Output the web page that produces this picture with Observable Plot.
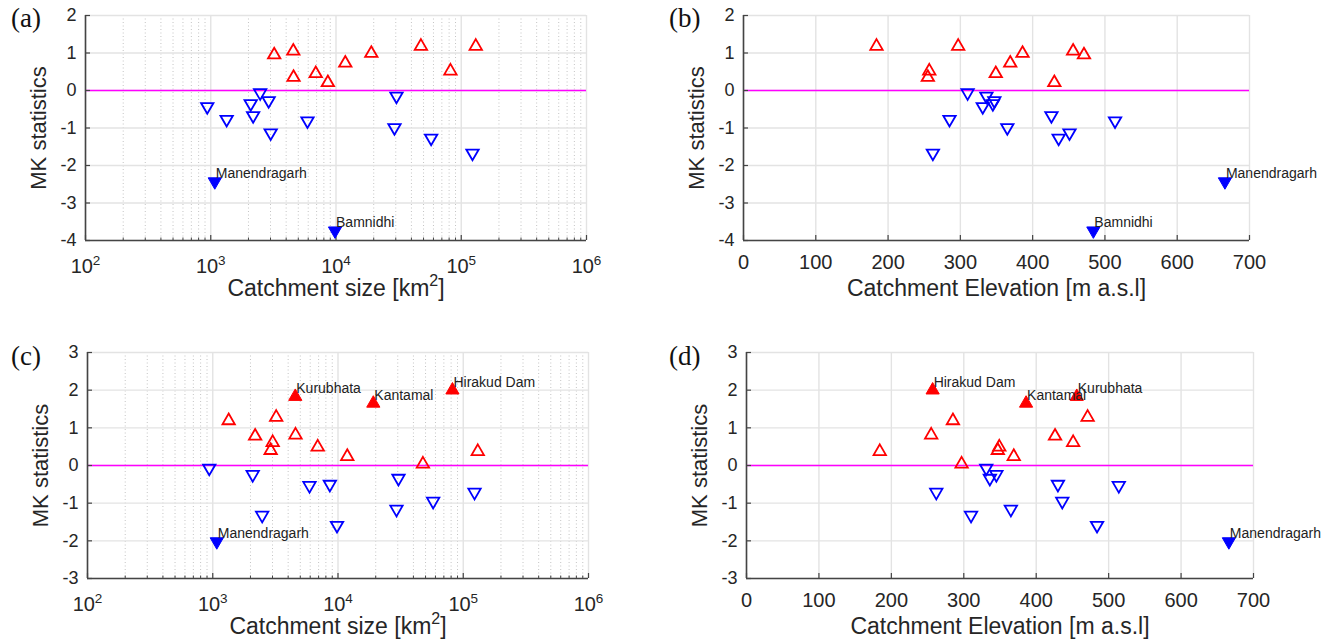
<!DOCTYPE html>
<html><head><meta charset="utf-8">
<script src="https://cdn.jsdelivr.net/npm/d3@7"></script>
<script src="https://cdn.jsdelivr.net/npm/@observablehq/plot@0.6"></script>
<style>
body{margin:0;background:#fff;}
#wrap{position:relative;width:1325px;height:642px;background:#fff;overflow:hidden;}
.panel{position:absolute;}
.plabel{position:absolute;font-family:"Liberation Serif","Times New Roman",serif;font-size:27px;line-height:30px;color:#111;}
</style></head><body><div id="wrap"></div>
<script>
// ---- data (24 gauging stations) ----
const stations = ["S01","S02","S03","S04","S05","S06","S07","S08","Kurubhata","S10","S11","S12","S13","Bamnidhi","S15","Kantamal","S17","S18","S19","S20","Hirakud Dam","S22","S23","Manendragarh"];
const area = [938,1340,2085,2180,2480,2900,3010,3210,4560,4580,5920,6890,8610,9820,11860,19140,29300,30400,47640,57500,82000,123000,130600,1077];
const elevation = [331,285,345,426,310,347,451,471,456,255,514,349,430,484,369,386,365,336,297,436,257,262,184,666];
const mkTop = [-0.43,-0.77,-0.35,-0.67,-0.06,-0.27,-1.13,0.95,1.05,0.35,-0.81,0.45,0.21,-3.74,0.73,0.99,-0.99,-0.15,1.18,-1.27,0.52,-1.67,1.18,-2.43];
const mkBottom = [-0.07,1.19,-0.24,0.78,-1.32,0.40,0.61,1.28,1.83,0.81,-0.53,0.49,-0.50,-1.59,0.24,1.65,-1.16,-0.34,0.04,-0.95,2.00,-0.71,0.37,-2.02];
const sigTop = ["Manendragarh","Bamnidhi"];
const sigBottom = ["Kurubhata","Kantamal","Hirakud Dam","Manendragarh"];
const logTicks = [1e2,1e3,1e4,1e5,1e6];
const elevTicks = [0,100,200,300,400,500,600,700];
const yTicksTop = [-4,-3,-2,-1,0,1,2];
const yTicksBottom = [-3,-2,-1,0,1,2,3];
const panelNames = ["(a)","(b)","(c)","(d)"];
const xLabelArea = "Catchment size [km^2]";
const xLabelElev = "Catchment Elevation [m a.s.l]";
const yLabel = "MK statistics";

const logMinor = [];
for (let e = 2; e < 6; e++) for (let m = 2; m <= 9; m++) logMinor.push(m * 10 ** e);

const AX = "#444", GRID = "#e3e3e3", TXT = "#262626";

function panel(o) {
  const data = stations.map((name, i) => ({name, x: o.x[i], y: o.y[i], sig: o.sig.includes(name)}));
  const iw = o.width - o.ml - o.mr, ih = o.height - o.mt - o.mb;
  const isLog = o.type === "log";
  const marks = [];
  if (isLog) marks.push(Plot.ruleX(logMinor, {stroke: "#c4c4c4", strokeWidth: 1, strokeDasharray: "1,2.5"}));
  marks.push(
    Plot.ruleX(o.xTicks, {stroke: GRID, strokeWidth: 1.4}),
    Plot.ruleY(o.yTicks, {stroke: GRID, strokeWidth: 1.4}),
    Plot.ruleY([0], {stroke: "#ff00ff", strokeWidth: 1.5}),
    Plot.tickY(o.yTicks, {y: d => d, stroke: AX, strokeWidth: 1.2, insetRight: iw - 5}),
    Plot.tickX(o.xTicks, {x: d => d, stroke: AX, strokeWidth: 1.2, insetTop: ih - 5})
  );
  if (isLog) marks.push(Plot.tickX(logMinor, {x: d => d, stroke: AX, strokeWidth: 1, insetTop: ih - 2.5}));
  marks.push(
    Plot.ruleX([o.xDomain[0]], {stroke: AX, strokeWidth: 1.6}),
    Plot.ruleY([o.yDomain[0]], {stroke: AX, strokeWidth: 1.6}),
    Plot.dot(data.filter(d => !d.sig && d.y >= 0), {x: "x", y: "y", symbol: "triangle", r: 4.6, stroke: "#ff0000", strokeWidth: 1.8, fill: "none"}),
    Plot.dot(data.filter(d => !d.sig && d.y < 0), {x: "x", y: "y", symbol: "triangle", rotate: 180, r: 4.6, stroke: "#0000ff", strokeWidth: 1.8, fill: "none"}),
    Plot.dot(data.filter(d => d.sig && d.y >= 0), {x: "x", y: "y", symbol: "triangle", r: 4.9, stroke: "#ff0000", strokeWidth: 1, fill: "#ff0000"}),
    Plot.dot(data.filter(d => d.sig && d.y < 0), {x: "x", y: "y", symbol: "triangle", rotate: 180, r: 4.9, stroke: "#0000ff", strokeWidth: 1, fill: "#0000ff"}),
    Plot.text(data.filter(d => d.sig), {x: "x", y: "y", text: "name", textAnchor: "start", lineAnchor: "bottom", dx: 1, dy: -3.5, fontSize: 14, fill: "#222"}),
    Plot.axisX({ticks: o.xTicks, tickSize: 0, tickPadding: isLog ? 18.5 : 14, fontSize: 20, fill: TXT,
      tickFormat: isLog ? (d => "10^" + Math.round(Math.log10(d))) : (d => String(d)), label: null}),
    Plot.axisY({ticks: o.yTicks, tickSize: 0, tickPadding: 9, fontSize: 18, fill: TXT, tickFormat: d => String(d), label: null}),
    Plot.text([o.xLabel], {text: d => d, frameAnchor: "bottom", textAnchor: "middle", lineAnchor: "bottom", dy: 55.5, fontSize: 23, fill: TXT}),
    Plot.text([yLabel], {text: d => d, frameAnchor: "left", textAnchor: "middle", lineAnchor: "middle", rotate: -90, dx: -47, fontSize: 22, fill: TXT})
  );
  const svg = Plot.plot({
    width: o.width, height: o.height,
    marginLeft: o.ml, marginRight: o.mr, marginTop: o.mt, marginBottom: o.mb,
    x: {type: o.type, domain: o.xDomain},
    y: {domain: o.yDomain},
    style: {fontFamily: "'Liberation Sans', Arial, sans-serif", background: "transparent", overflow: "visible"},
    marks
  });
  // superscripts for "^n"
  const ns = "http://www.w3.org/2000/svg";
  svg.querySelectorAll("text").forEach(t => {
    const m = t.textContent.match(/^(.*)\^(\d)(.*)$/);
    if (!m) return;
    const host = t.querySelector("tspan") || t;
    host.textContent = "";
    host.appendChild(document.createTextNode(m[1]));
    const sup = document.createElementNS(ns, "tspan");
    const raise = m[3] ? 10 : 8.5;
    sup.setAttribute("dy", -raise);
    sup.setAttribute("font-size", m[3] ? 16 : 13.5);
    sup.textContent = m[2];
    host.appendChild(sup);
    if (m[3]) {
      const rest = document.createElementNS(ns, "tspan");
      rest.setAttribute("dy", raise);
      rest.textContent = m[3];
      host.appendChild(rest);
    }
  });
  svg.style.position = "absolute";
  svg.style.left = o.left + "px";
  svg.style.top = o.top + "px";
  return svg;
}

const wrap = document.getElementById("wrap");
const cfg = [
  {left: 0, top: 0, width: 662, height: 321, ml: 85, mr: 76, mt: 15, mb: 81, type: "log", x: area, y: mkTop, sig: sigTop, xDomain: [1e2, 1e6], yDomain: [-4, 2], xTicks: logTicks, yTicks: yTicksTop, xLabel: xLabelArea},
  {left: 662, top: 0, width: 663, height: 321, ml: 81, mr: 76, mt: 15, mb: 81, type: "linear", x: elevation, y: mkTop, sig: sigTop, xDomain: [0, 700], yDomain: [-4, 2], xTicks: elevTicks, yTicks: yTicksTop, xLabel: xLabelElev},
  {left: 0, top: 321, width: 662, height: 321, ml: 87, mr: 74, mt: 31, mb: 64, type: "log", x: area, y: mkBottom, sig: sigBottom, xDomain: [1e2, 1e6], yDomain: [-3, 3], xTicks: logTicks, yTicks: yTicksBottom, xLabel: xLabelArea},
  {left: 662, top: 321, width: 663, height: 321, ml: 84, mr: 72, mt: 31, mb: 64, type: "linear", x: elevation, y: mkBottom, sig: sigBottom, xDomain: [0, 700], yDomain: [-3, 3], xTicks: elevTicks, yTicks: yTicksBottom, xLabel: xLabelElev}
];
cfg.forEach(c => wrap.appendChild(panel(c)));
const labPos = [[11, 3], [669, 3], [11, 341], [669, 341]];
panelNames.forEach((n, i) => {
  const d = document.createElement("div");
  d.className = "plabel";
  d.textContent = n;
  d.style.left = labPos[i][0] + "px";
  d.style.top = labPos[i][1] + "px";
  wrap.appendChild(d);
});
</script></body></html>
